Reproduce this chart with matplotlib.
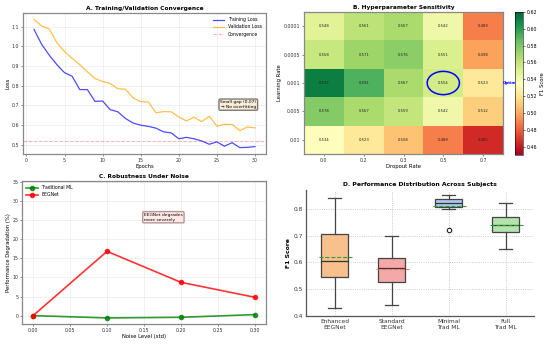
import matplotlib
matplotlib.use("Agg")
import matplotlib.pyplot as plt
from matplotlib.patches import Ellipse
import numpy as np

# ---------------- data ----------------
epochs = list(range(1, 31))
train_loss = [1.086, 1.010, 0.955, 0.907, 0.866, 0.848, 0.780, 0.780, 0.720, 0.722,
              0.678, 0.667, 0.633, 0.610, 0.599, 0.593, 0.584, 0.565, 0.560, 0.530,
              0.537, 0.530, 0.519, 0.502, 0.514, 0.492, 0.510, 0.485, 0.486, 0.490]
val_loss = [1.137, 1.103, 1.088, 1.018, 0.973, 0.939, 0.907, 0.870, 0.837, 0.821,
            0.811, 0.784, 0.782, 0.738, 0.719, 0.717, 0.662, 0.668, 0.667, 0.641,
            0.621, 0.640, 0.617, 0.644, 0.594, 0.603, 0.603, 0.571, 0.590, 0.585]
convergence_level = 0.52

dropout_labels = ["0.0", "0.2", "0.3", "0.5", "0.7"]
lr_labels = ["0.0001", "0.0005", "0.001", "0.005", "0.01"]
f1_grid = [[0.548, 0.561, 0.567, 0.542, 0.489],
           [0.558, 0.571, 0.576, 0.551, 0.498],
           [0.612, 0.591, 0.567, 0.554, 0.523],
           [0.578, 0.567, 0.559, 0.542, 0.512],
           [0.534, 0.523, 0.508, 0.489, 0.465]]
optimal_cell = (2, 3)  # (row, col)

noise_levels = [0.0, 0.1, 0.2, 0.3]
trad_degradation = [0.0, -0.61, -0.44, 0.26]
eeg_degradation = [0.0, 16.85, 8.73, 4.8]

box_labels = ["Enhanced\nEEGNet", "Standard\nEEGNet", "Minimal\nTrad ML", "Full\nTrad ML"]
box_whislo = [0.43, 0.44, 0.80, 0.65]
box_q1 = [0.545, 0.527, 0.805, 0.715]
box_med = [0.605, 0.578, 0.820, 0.740]
box_q3 = [0.705, 0.615, 0.835, 0.770]
box_whishi = [0.84, 0.70, 0.85, 0.82]
box_fliers = [[], [], [0.72], []]
box_means = [0.62, 0.575, 0.81, 0.74]
box_colors = ["#f8c08c", "#f4a9a9", "#a9c8ee", "#b4e3ad"]
mean_colors = ["#2ca02c", "#f07070", "#2ca02c", "#2ca02c"]

# ---------------- figure ----------------
W, H = 550, 344
fig = plt.figure(figsize=(W / 100, H / 100), dpi=100)


def rect(l, r, t, b):
    return [l / W, (H - b) / H, (r - l) / W, (b - t) / H]


frame_color = "#888888"
tick_fs = 3.4
lab_fs = 3.8
title_fs = 4.2


def style_frame(ax):
    for s in ax.spines.values():
        s.set_color(frame_color)
        s.set_linewidth(0.9)
    ax.tick_params(labelsize=tick_fs, length=1.5, width=0.4, pad=1.2, colors="#333333")


# ---- A ----
axA = fig.add_axes(rect(23, 266, 13, 154))
axA.plot(epochs, train_loss, color="blue", alpha=0.7, lw=0.9, label="Training Loss")
axA.plot(epochs, val_loss, color="orange", alpha=0.7, lw=0.9, label="Validation Loss")
axA.axhline(convergence_level, color="red", ls="--", alpha=0.3, lw=0.7, label="Convergence")
axA.set_title("A. Training/Validation Convergence", fontsize=title_fs, fontweight="bold", pad=2)
axA.set_xlabel("Epochs", fontsize=lab_fs, labelpad=1)
axA.set_ylabel("Loss", fontsize=lab_fs, labelpad=1)
axA.grid(True, alpha=0.3, lw=0.4)
axA.legend(fontsize=3.3, frameon=False, loc="upper right", handlelength=2.5)
axA.text(0.96, 0.35, "Small gap (0.07)\n\u2192 No overfitting", transform=axA.transAxes,
         fontsize=3.2, ha="right", va="center",
         bbox=dict(boxstyle="round,pad=0.3", facecolor="wheat", alpha=0.5))
style_frame(axA)

# ---- B ----
axB = fig.add_axes(rect(304, 503, 12, 154))
data = np.array(f1_grid)
im = axB.imshow(data, cmap="RdYlGn", vmin=0.45, vmax=0.62, aspect="auto")
for i in range(data.shape[0]):
    for j in range(data.shape[1]):
        axB.text(j, i, f"{data[i, j]:.3f}", ha="center", va="center", fontsize=2.7, color="#222222")
axB.set_xticks(range(len(dropout_labels)))
axB.set_xticklabels(dropout_labels)
axB.set_yticks(range(len(lr_labels)))
axB.set_yticklabels(lr_labels)
axB.set_xlabel("Dropout Rate", fontsize=lab_fs, labelpad=1)
axB.set_ylabel("Learning Rate", fontsize=lab_fs, labelpad=1)
axB.set_title("B. Hyperparameter Sensitivity", fontsize=title_fs, fontweight="bold", pad=2)
r, c = optimal_cell
axB.add_patch(Ellipse((c, r), 0.81, 0.82, fill=False, edgecolor="blue", lw=1.1))
axB.text(c + 1.5, r, "Optimal", color="blue", fontsize=2.8, fontweight="bold",
         ha="left", va="center", clip_on=False)
style_frame(axB)

caxB = fig.add_axes(rect(515, 523, 12, 155))
cb = fig.colorbar(im, cax=caxB)
cb.set_ticks(np.arange(0.46, 0.621, 0.02))
cb.ax.tick_params(labelsize=tick_fs, length=1.5, width=0.4, pad=1)
cb.set_label("F1 Score", fontsize=lab_fs, labelpad=2)
cb.outline.set_linewidth(0.4)

# ---- C ----
axC = fig.add_axes(rect(22, 266, 181, 324))
axC.plot(noise_levels, trad_degradation, "o-", color="green", lw=1.2, ms=3, alpha=0.8, label="Traditional ML")
axC.plot(noise_levels, eeg_degradation, "o-", color="red", lw=1.2, ms=3, alpha=0.8, label="EEGNet")
axC.set_ylim(-2.2, 35.3)
axC.set_xticks([0.0, 0.05, 0.10, 0.15, 0.20, 0.25, 0.30])
axC.set_xlabel("Noise Level (std)", fontsize=lab_fs, labelpad=1)
axC.set_ylabel("Performance Degradation (%)", fontsize=lab_fs, labelpad=1)
axC.set_title("C. Robustness Under Noise", fontsize=title_fs, fontweight="bold", pad=2)
axC.grid(True, alpha=0.3, lw=0.4)
axC.legend(fontsize=3.3, frameon=False, loc="upper left", handlelength=2.5)
axC.text(0.15, 25.8, "EEGNet degrades\nmore severely", fontsize=3.2, ha="left", va="center",
         bbox=dict(boxstyle="round,pad=0.3", facecolor="mistyrose", edgecolor="#a08080", alpha=0.8))
style_frame(axC)

# ---- D ----
axD = fig.add_axes(rect(306, 534, 190, 316))
positions = list(range(1, len(box_labels) + 1))
stats = []
for k in range(len(box_labels)):
    stats.append(dict(label=box_labels[k], whislo=box_whislo[k], q1=box_q1[k], med=box_med[k],
                      q3=box_q3[k], whishi=box_whishi[k], fliers=box_fliers[k]))
bp = axD.bxp(stats, positions=positions, widths=0.47, patch_artist=True, showfliers=True,
             boxprops=dict(edgecolor="#444444", linewidth=0.9),
             whiskerprops=dict(color="#444444", linewidth=0.9),
             capprops=dict(color="#444444", linewidth=0.9),
             medianprops=dict(color="#333333", linewidth=0.9),
             flierprops=dict(marker="o", markerfacecolor="white", markeredgecolor="#222222",
                             markersize=3.2, markeredgewidth=0.8))
for patch, col in zip(bp["boxes"], box_colors):
    patch.set_facecolor(col)
for p, m, mc in zip(positions, box_means, mean_colors):
    axD.hlines(m, p - 0.28, p + 0.31, colors=mc, linestyles="--", lw=0.8, zorder=5)
axD.set_xlim(0.5, 4.5)
axD.set_ylim(0.4, 0.87)
axD.set_yticks([0.4, 0.5, 0.6, 0.7, 0.8])
axD.set_title("D. Performance Distribution Across Subjects", fontsize=4.4, fontweight="bold", pad=3)
axD.set_ylabel("F1 Score", fontsize=4.4, fontweight="bold", labelpad=2)
axD.grid(True, ls=":", color="#bbbbbb", lw=0.6)
axD.set_axisbelow(True)
for s in ["top", "right"]:
    axD.spines[s].set_visible(False)
for s in ["left", "bottom"]:
    axD.spines[s].set_color("#555555")
    axD.spines[s].set_linewidth(0.9)
axD.tick_params(labelsize=4.2, length=0, pad=2, colors="#333333")

fig.savefig("out.png", dpi=100)
